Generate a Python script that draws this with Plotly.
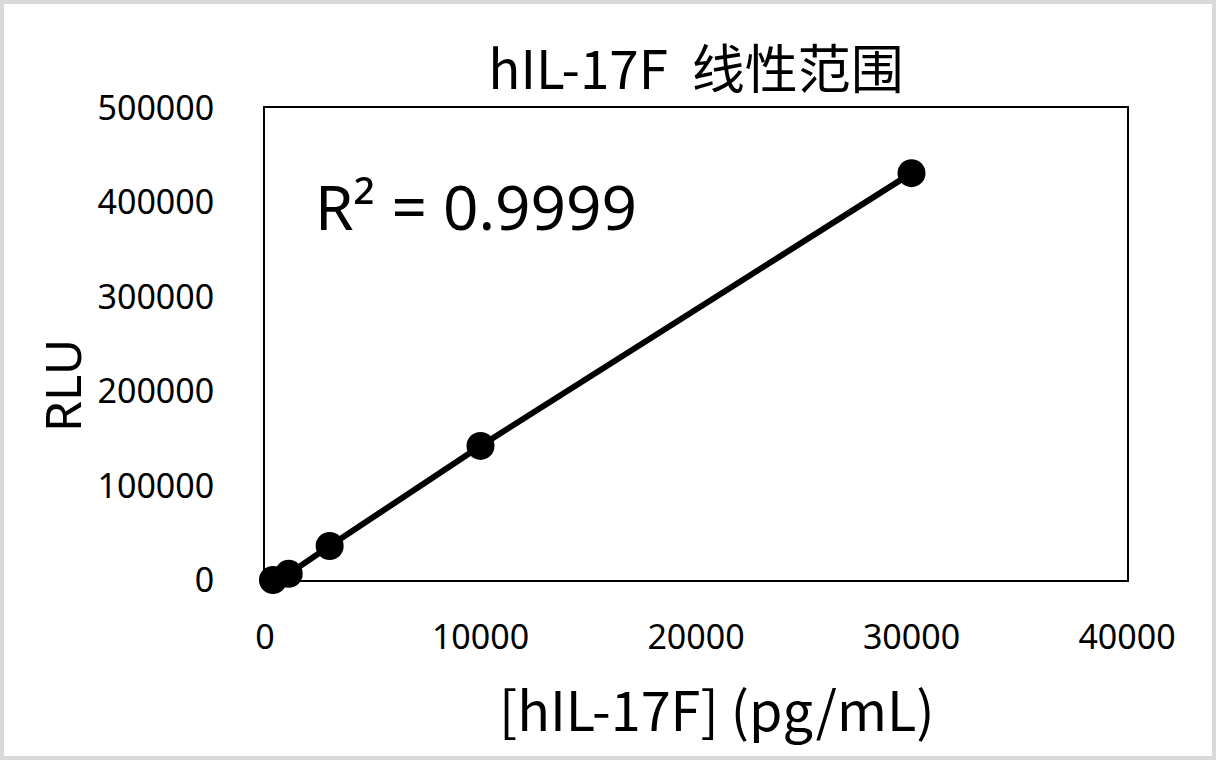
import plotly.graph_objects as go

# values
conc = [0, 120, 370, 1100, 3000, 10000, 30000]
rlu = [-8000, -4000, 0, 6500, 36000, 142000, 431000]
x_ticks = [0, 10000, 20000, 30000, 40000]
y_ticks = [0, 100000, 200000, 300000, 400000, 500000]

title_text = 'hIL-17F  线性范围'
x_title = '[hIL-17F] (pg/mL)'
y_title = 'RLU'
r2_text = 'R² = 0.9999'

W, H = 1216, 760
L, R, T, B = 265, 89, 108, 180
pw, ph = W - L - R, H - T - B
cjk = 'Noto Sans CJK SC, Noto Sans, sans-serif'
latin = 'Noto Sans, Noto Sans CJK SC, sans-serif'

fig = go.Figure()
fig.add_trace(go.Scatter(
    x=conc, y=rlu, mode='lines+markers',
    line=dict(color='black', width=6),
    marker=dict(color='black', size=28),
    cliponaxis=False, showlegend=False,
))

fig.update_layout(
    width=W, height=H,
    margin=dict(l=L, r=R, t=T, b=B),
    paper_bgcolor='white', plot_bgcolor='white',
    font=dict(family=cjk, color='black'),
    title=dict(text=title_text, x=(L + pw / 2) / W, xanchor='center',
               y=1 - 70 / H, yanchor='middle', font=dict(size=53)),
)
fig.update_xaxes(range=[0, 40000], tickvals=x_ticks, ticktext=[str(v) for v in x_ticks],
                 showgrid=False, zeroline=False, showline=True, mirror=True,
                 linecolor='black', linewidth=2, ticks='',
                 tickfont=dict(family=latin, size=34), ticklabelstandoff=26)
fig.update_yaxes(range=[0, 500000], tickvals=y_ticks, ticktext=[str(v) for v in y_ticks],
                 showgrid=False, zeroline=False, showline=True, mirror=True,
                 linecolor='black', linewidth=2, ticks='',
                 tickfont=dict(family=latin, size=34), ticklabelstandoff=42)

# axis titles and R² label
fig.add_annotation(text=x_title, xref='paper', yref='paper',
                   x=(717 - L) / pw, y=-(707 - T - ph) / ph,
                   xanchor='center', yanchor='middle', showarrow=False,
                   font=dict(size=54))
fig.add_annotation(text=y_title, xref='paper', yref='paper',
                   x=-(L - 62) / pw, y=(T + ph - 386) / ph, textangle=-90,
                   xanchor='center', yanchor='middle', showarrow=False,
                   font=dict(family=latin, size=50))
fig.add_annotation(text=r2_text, xref='paper', yref='paper',
                   x=(313 - L) / pw, y=(T + ph - 206) / ph,
                   xanchor='left', yanchor='middle', showarrow=False,
                   font=dict(family=latin, size=62))

# light grey frame around the whole picture
fig.add_shape(type='rect', xref='paper', yref='paper',
              x0=-(L - 2) / pw, x1=(W - L - 2) / pw,
              y0=-(B - 2) / ph, y1=(H - B - 2) / ph,
              line=dict(color='#d9d9d9', width=4), layer='below')

fig.write_html('out.html', config={'displayModeBar': False},
               post_script="document.body.style.margin='0';")
